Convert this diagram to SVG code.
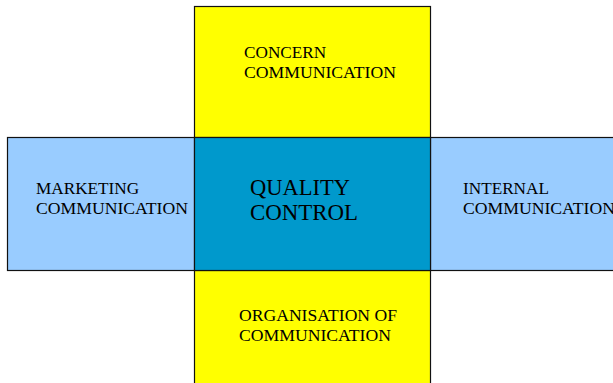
<svg xmlns="http://www.w3.org/2000/svg" width="613" height="383" viewBox="0 0 613 383">
<style>
.box{stroke:#111;stroke-width:1.2}
.y{fill:#FFFF00}
.lb{fill:#99CCFF}
.c{fill:#0099CC}
text{font-family:"Liberation Serif","Times New Roman",serif;fill:#000}
.t{font-size:17.2px}
.q{font-size:22.5px}
</style>
<rect width="613" height="383" fill="#fff"/>
<g id="concern">
<rect class="box y" x="194.5" y="6.5" width="236" height="131"/>
<text class="t" x="244" y="58">CONCERN</text>
<text class="t" x="244" y="78" textLength="152" lengthAdjust="spacingAndGlyphs">COMMUNICATION</text>
</g>
<g id="marketing">
<rect class="box lb" x="7.5" y="137.5" width="187" height="133"/>
<text class="t" x="36" y="194">MARKETING</text>
<text class="t" x="36" y="214" textLength="152" lengthAdjust="spacingAndGlyphs">COMMUNICATION</text>
</g>
<g id="internal">
<rect class="box lb" x="430.5" y="137.5" width="190" height="133"/>
<text class="t" x="463" y="194">INTERNAL</text>
<text class="t" x="463" y="214" textLength="152" lengthAdjust="spacingAndGlyphs">COMMUNICATION</text>
</g>
<g id="organisation">
<rect class="box y" x="194.5" y="270.5" width="236" height="120"/>
<text class="t" x="239" y="321" textLength="158" lengthAdjust="spacingAndGlyphs">ORGANISATION OF</text>
<text class="t" x="239" y="341" textLength="152" lengthAdjust="spacingAndGlyphs">COMMUNICATION</text>
</g>
<g id="quality">
<rect class="box c" x="194.5" y="137.5" width="236" height="133"/>
<text class="q" x="250" y="195">QUALITY</text>
<text class="q" x="250" y="220" textLength="108" lengthAdjust="spacingAndGlyphs">CONTROL</text>
</g>
<g id="connectors"></g>
</svg>
